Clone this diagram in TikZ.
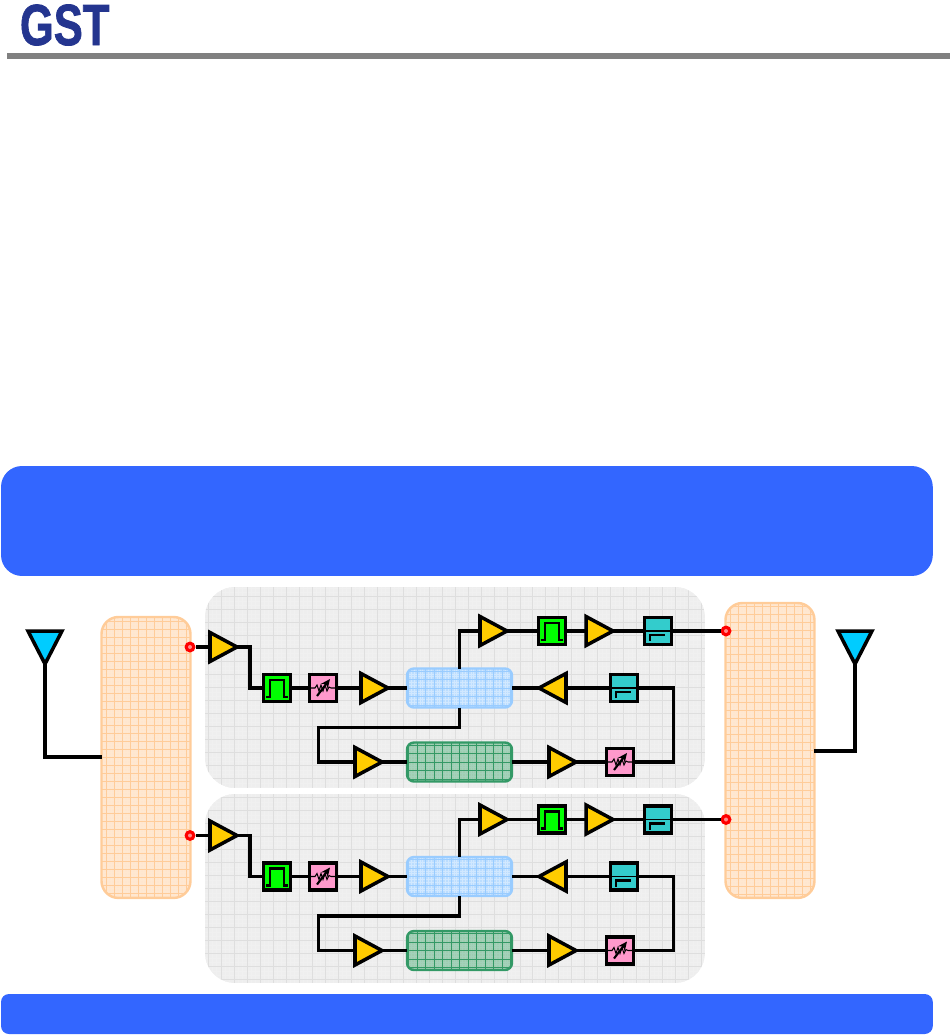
\documentclass[tikz,border=0pt]{standalone}
\usepackage{fontspec}
\usepackage{graphicx}
\setmainfont{Liberation Sans}
\usetikzlibrary{arrows.meta, shapes.geometric}
\definecolor{cbanner}{HTML}{3366FF}
\definecolor{cpanel}{HTML}{EEEEEE}
\definecolor{cpanelg}{HTML}{DEDEDE}
\definecolor{corange}{HTML}{FFCC99}
\definecolor{cduct}{HTML}{FFE6CF}
\definecolor{camp}{HTML}{FFCC00}
\definecolor{cbpf}{HTML}{00FF00}
\definecolor{catt}{HTML}{FF99CC}
\definecolor{cflt}{HTML}{33CCCC}
\definecolor{cant}{HTML}{00CCFF}
\definecolor{clogo}{HTML}{24358F}
\definecolor{chyb}{HTML}{99CCFF}
\definecolor{chybf}{HTML}{BBDDFF}
\definecolor{cpa}{HTML}{339966}
\definecolor{cpaf}{HTML}{9FCDB0}
\tikzset{
  every picture/.style={x=0.02cm, y=-0.02cm},
  every node/.style={outer sep=0pt, inner sep=0pt},
  hatch/.style 2 args={path picture={
    \draw[#1!45, line width=0.25pt, step=#2/3] (path picture bounding box.south west) grid (path picture bounding box.north east);
    \draw[#1, line width=0.5pt, step=#2] (path picture bounding box.south west) grid (path picture bounding box.north east);}},
  wire/.style={line width=1.8pt, line join=miter},
  box/.style={draw, line width=2pt, minimum width=0.54cm, minimum height=0.54cm, rectangle},
  amp/.style={draw, line width=2pt, fill=camp, isosceles triangle, isosceles triangle stretches, shape border rotate=#1, minimum width=0.58cm, minimum height=0.54cm},
  amp/.default=0,
  ant/.style={draw, line width=2pt, fill=cant, isosceles triangle, isosceles triangle stretches, shape border rotate=-90, minimum width=0.68cm, minimum height=0.66cm},
  bpf/.style={box, fill=cbpf, path picture={
    \draw[line width=1.2pt] (-11,9) -- (-7,9) -- (-7,-8) -- (7,-8) -- (7,9) -- (11,9);}},
  att/.style={box, fill=catt, path picture={
    \draw[line width=0.6pt] (-14,0) -- (-8,0) -- (-6,-3) -- (-4,3) -- (-2,-3) -- (0,3) -- (2,-3) -- (4,3) -- (6,-1) -- (8,0) -- (14,0);
    \draw[line width=1.2pt, -{Stealth[length=1.8mm, width=1.6mm]}] (-6,8) -- (7,-9);}},
  flt/.style={box, fill=cflt, path picture={
    \draw[line width=0.7pt] (-14,0) -- (14,0);
    \draw[line width=1.3pt] (-8,10) -- (-8,4) -- (7,4);}},
  port/.style={circle, fill=red, minimum size=0.22cm, path picture={
    \fill[red!45] (0,0) circle (2);}},
  duct/.style={draw=corange, line width=1.4pt, fill=cduct, rounded corners=0.34cm, minimum width=1.78cm, hatch={corange}{0.16cm}},
  block/.style={draw=#1, line width=1.4pt, rounded corners=0.14cm, minimum width=2.1cm, minimum height=0.78cm},
  panel/.style={fill=cpanel, rounded corners=0.6cm, minimum width=10cm, hatch={cpanelg}{0.26cm}},
  banner/.style={fill=cbanner, minimum width=18.64cm},
}
\begin{document}
\begin{tikzpicture}
  \useasboundingbox (0,0) rectangle (950,1035);
  \node[text=clogo, anchor=base west, font=\bfseries\fontsize{33}{33}\selectfont] (logo) at (20,45) {\addfontfeature{FakeBold=1.5}\scalebox{0.75}[1]{GST}};
  \node[fill=black!50, anchor=north west, minimum width=18.86cm, minimum height=0.12cm] (rule) at (7,53) {};
  \node[banner, rounded corners=0.42cm, minimum height=2.2cm, anchor=north west] (top) at (1,466) {};
  \node[banner, rounded corners=0.16cm, minimum height=0.8cm, anchor=north west] (bottom) at (1,994) {};
  \node[panel, minimum height=4.02cm, anchor=north west] (panela) at (205,587) {};
  \node[panel, minimum height=3.78cm, anchor=north west] (panelb) at (205,794) {};
  \node[duct, minimum height=5.62cm, anchor=north west] (ductl) at (101.5,617) {};
  \node[duct, minimum height=5.9cm, anchor=north west] (ductr) at (725.5,603) {};
  \node[ant, anchor=north] (antl) at (45,631) {};
  \node[ant, anchor=north] (antr) at (855,631) {};
  \draw[wire] (antl.apex) |- (ductl.west |- 0,757);
  \draw[wire] (antr.apex) |- (ductr.east |- 0,751);
  \foreach \c/\dy in {a/0, b/188.5} {
    \begin{scope}[shift={(0,\dy)}]
      \node[block=chyb, fill=chybf, hatch={chyb}{0.17cm}, anchor=west] (\c hyb) at (407,688) {};
      \node[block=cpa, fill=cpaf, hatch={cpa}{0.17cm}, anchor=west] (\c pa) at (407,762) {};
      \node[port] (\c pl) at (190,647) {};
      \node[port] (\c pr) at (726,631) {};
      \node[amp, anchor=west] (\c a1) at (210,647) {};
      \node[bpf] (\c b1) at (277,688) {};
      \node[att] (\c v1) at (323,688) {};
      \node[amp, anchor=west] (\c a2) at (361,688) {};
      \node[amp, anchor=west] (\c a3) at (355,762) {};
      \node[amp, anchor=west] (\c a4) at (549,762) {};
      \node[att] (\c v2) at (620,762) {};
      \node[flt] (\c f2) at (624,688) {};
      \node[amp=180, anchor=east] (\c a5) at (566,688) {};
      \node[amp, anchor=west] (\c a6) at (480,631) {};
      \node[bpf] (\c b2) at (552,631) {};
      \node[amp, anchor=west] (\c a7) at (586,631) {};
      \node[flt] (\c f1) at (658,631) {};
      \draw[wire] (\c pl) -- (\c a1.west);
      \draw[wire] (\c a1.apex) -- ++(13,0) |- (\c b1.west);
      \draw[wire] (\c b1.east) -- (\c v1.west);
      \draw[wire] (\c v1.east) -- (\c a2.west);
      \draw[wire] (\c a2.apex) -- (\c hyb.west);
      \draw[wire] (\c hyb.south) |- ++(-141,20) |- (\c a3.west);
      \draw[wire] (\c a3.apex) -- (\c pa.west);
      \draw[wire] (\c pa.east) -- (\c a4.west);
      \draw[wire] (\c a4.apex) -- (\c v2.west);
      \draw[wire] (\c v2.east) -- ++(40,0) |- (\c f2.east);
      \draw[wire] (\c f2.west) -- (\c a5.east);
      \draw[wire] (\c a5.apex) -- (\c hyb.east);
      \draw[wire] (\c hyb.north) |- (\c a6.west);
      \draw[wire] (\c a6.apex) -- (\c b2.west);
      \draw[wire] (\c b2.east) -- (\c a7.west);
      \draw[wire] (\c a7.apex) -- (\c f1.west);
      \draw[wire] (\c f1.east) -- (\c pr.west);
    \end{scope}
  }
\end{tikzpicture}
\end{document}
